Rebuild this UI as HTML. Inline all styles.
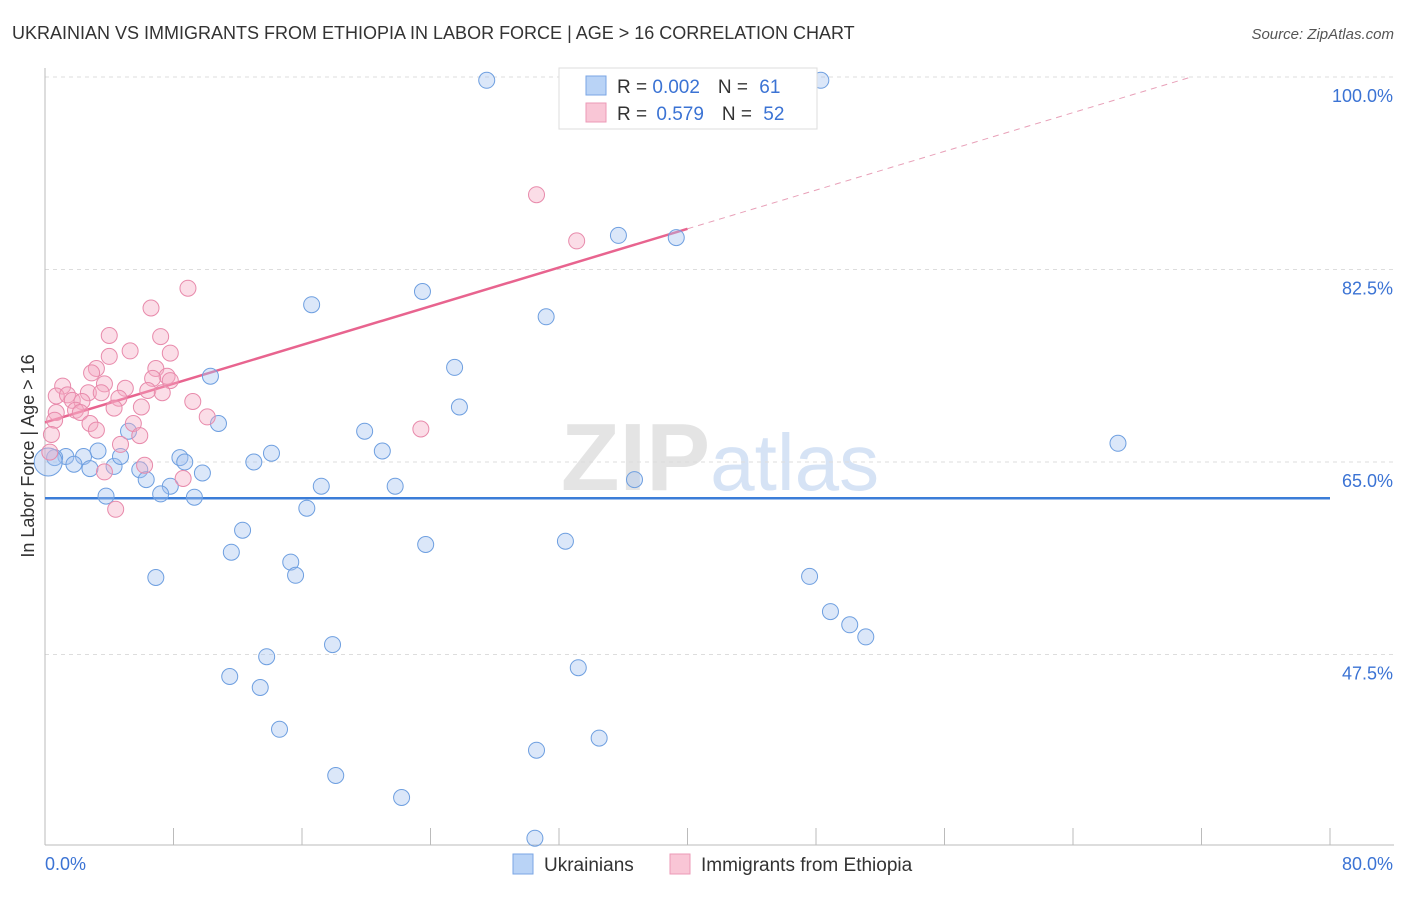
<!DOCTYPE html>
<html><head><meta charset="utf-8"><style>
body{margin:0;background:#fff;font-family:"Liberation Sans",sans-serif;}
svg text{font-family:"Liberation Sans",sans-serif;}
</style></head><body>
<svg id="chart" width="1406" height="892" xmlns="http://www.w3.org/2000/svg">
<text x="12" y="39" font-size="18" fill="#333">UKRAINIAN VS IMMIGRANTS FROM ETHIOPIA IN LABOR FORCE | AGE &gt; 16 CORRELATION CHART</text>
<text x="1394" y="39" font-size="15" fill="#555" text-anchor="end" font-style="italic">Source: ZipAtlas.com</text>
<text x="720" y="490" font-size="96" text-anchor="middle" fill="#e4e4e4" font-family="Liberation Serif"><tspan font-weight="bold">ZIP</tspan><tspan fill="#d6e3f5" font-family="Liberation Sans" font-size="80">atlas</tspan></text>
<g id="grid"></g>
<g id="axes"></g>
<g id="trends"></g>
<g id="points"></g>
<text transform="translate(34,456) rotate(-90)" font-size="18" fill="#333" text-anchor="middle">In Labor Force | Age &gt; 16</text>
<g>
<rect x="559" y="68" width="258" height="61" fill="#fff" stroke="#ddd"/>
<rect x="586" y="76" width="20" height="19" fill="#b9d3f6" stroke="#7aa6e4"/>
<rect x="586" y="103" width="20" height="19" fill="#f9c6d6" stroke="#ec9ab7"/>
<text x="617" y="93" font-size="19" fill="#333">R = <tspan fill="#3b73d4">0.002</tspan><tspan dx="18">N = </tspan><tspan fill="#3b73d4" dx="6">61</tspan></text>
<text x="617" y="120" font-size="19" fill="#333">R = <tspan fill="#3b73d4" dx="4">0.579</tspan><tspan dx="18">N = </tspan><tspan fill="#3b73d4" dx="6">52</tspan></text>
</g>
<g>
<rect x="513" y="854" width="20" height="20" fill="#b9d3f6" stroke="#7aa6e4"/>
<text x="544" y="871" font-size="19" fill="#333">Ukrainians</text>
<rect x="670" y="854" width="20" height="20" fill="#f9c6d6" stroke="#ec9ab7"/>
<text x="701" y="871" font-size="19" fill="#333">Immigrants from Ethiopia</text>
</g>
</svg>
<script>
const yTicks=[47.5,65.0,82.5,100.0];
const yTickLabels=["47.5%","65.0%","82.5%","100.0%"];
const xTickLabels=["0.0%","80.0%"];
const blueX=[27.5,48.3,35.7,39.3,16.6,23.5,31.2,25.5,10.3,25.8,10.8,19.9,5.2,21.0,14.1,13.0,3.3,2.4,1.3,0.6,1.8,2.8,4.3,4.7,5.9,6.3,8.4,8.7,9.8,7.8,7.2,9.3,3.8,17.2,21.8,36.7,66.8,16.3,12.3,11.6,23.7,32.4,15.3,15.6,6.9,47.6,48.9,50.1,51.1,17.9,13.8,33.2,11.5,13.4,14.6,34.5,30.6,18.1,22.2,30.5];
const blueY=[99.7,99.7,85.6,85.4,79.3,80.5,78.2,73.6,72.8,70.0,68.5,67.8,67.8,66.0,65.8,65.0,66.0,65.5,65.5,65.4,64.8,64.4,64.6,65.5,64.3,63.4,65.4,65.0,64.0,62.8,62.1,61.8,61.9,62.8,62.8,63.4,66.7,60.8,58.8,56.8,57.5,57.8,55.9,54.7,54.5,54.6,51.4,50.2,49.1,48.4,47.3,46.3,45.5,44.5,40.7,39.9,38.8,36.5,34.5,30.8];
const pinkX=[30.6,33.1,8.9,6.6,4.0,7.2,5.3,4.0,7.8,6.9,3.2,2.9,7.6,7.8,3.7,6.7,5.0,1.1,6.4,7.3,2.7,3.5,0.7,1.4,1.7,4.6,9.2,2.3,4.3,6.0,1.9,2.2,0.7,10.1,0.6,2.8,5.5,3.2,5.9,0.4,4.7,23.4,0.3,6.2,3.7,8.6,4.4];
const pinkY=[89.3,85.1,80.8,79.0,76.5,76.4,75.1,74.6,74.9,73.5,73.5,73.1,72.8,72.4,72.1,72.6,71.7,71.9,71.5,71.3,71.3,71.3,71.0,71.1,70.6,70.8,70.5,70.5,69.9,70.0,69.7,69.5,69.5,69.1,68.8,68.5,68.5,67.9,67.4,67.5,66.6,68.0,65.9,64.7,64.1,63.5,60.7];
const blueTrend=[61.7,61.7];
const pinkTrend=[68.6,0.44];
const NS="http://www.w3.org/2000/svg";
const xs=v=>45+v*1285/80, ys=v=>462-(v-65)*192.5/17.5;
function mk(p,t,a){const e=document.createElementNS(NS,t);for(const k in a)e.setAttribute(k,a[k]);p.appendChild(e);return e;}
const grid=document.getElementById('grid'),axes=document.getElementById('axes'),tr=document.getElementById('trends'),pts=document.getElementById('points');
yTicks.forEach((v,i)=>{
 const l=mk(grid,'line',{x1:45,x2:1394,y1:ys(v),y2:ys(v),stroke:'#ddd','stroke-dasharray':'4,4'});
 
 
 const t=mk(axes,'text',{x:1393,y:ys(v)+25,'font-size':18,fill:'#3b73d4','text-anchor':'end'});
 t.textContent=yTickLabels[i];
 
 
});
mk(axes,'line',{x1:45,x2:45,y1:68,y2:845,stroke:'#bbb'});
mk(axes,'line',{x1:45,x2:1394,y1:845,y2:845,stroke:'#bbb'});
for(let i=0;i<=10;i++){const x=xs(i*8);const t=mk(axes,'line',{x1:x,x2:x,y1:828,y2:845,stroke:'#bbb'});}
let t0=mk(axes,'text',{x:45,y:870,'font-size':18,fill:'#3b73d4'});t0.textContent=xTickLabels[0];


let t1=mk(axes,'text',{x:1393,y:870,'font-size':18,fill:'#3b73d4','text-anchor':'end'});t1.textContent=xTickLabels[1];


blueX.forEach((x,i)=>{const c=mk(pts,'circle',{cx:xs(x),cy:ys(blueY[i]),r:8,fill:'rgba(164,196,240,0.4)',stroke:'#6e9fe0','stroke-width':1});
 
 });
const big=mk(pts,'circle',{cx:xs(0.2),cy:ys(65),r:14,fill:'rgba(164,196,240,0.4)',stroke:'#6e9fe0'});


pinkX.forEach((x,i)=>{const c=mk(pts,'circle',{cx:xs(x),cy:ys(pinkY[i]),r:8,fill:'rgba(244,170,195,0.4)',stroke:'#e88aab','stroke-width':1});
 
 });
const bl=mk(tr,'line',{x1:xs(0),x2:xs(80),y1:ys(blueTrend[0]),y2:ys(blueTrend[1]),stroke:'#3b7dd8','stroke-width':2.5});


const pf=v=>pinkTrend[0]+pinkTrend[1]*v;
const pl=mk(tr,'line',{x1:xs(0),x2:xs(40),y1:ys(pf(0)),y2:ys(pf(40)),stroke:'#e8648f','stroke-width':2.5});


const xe=(100-pinkTrend[0])/pinkTrend[1];
const pd=mk(tr,'line',{x1:xs(40),x2:xs(xe),y1:ys(pf(40)),y2:ys(100),stroke:'#e8a0b8','stroke-width':1,'stroke-dasharray':'6,5'});


</script>
</body></html>
